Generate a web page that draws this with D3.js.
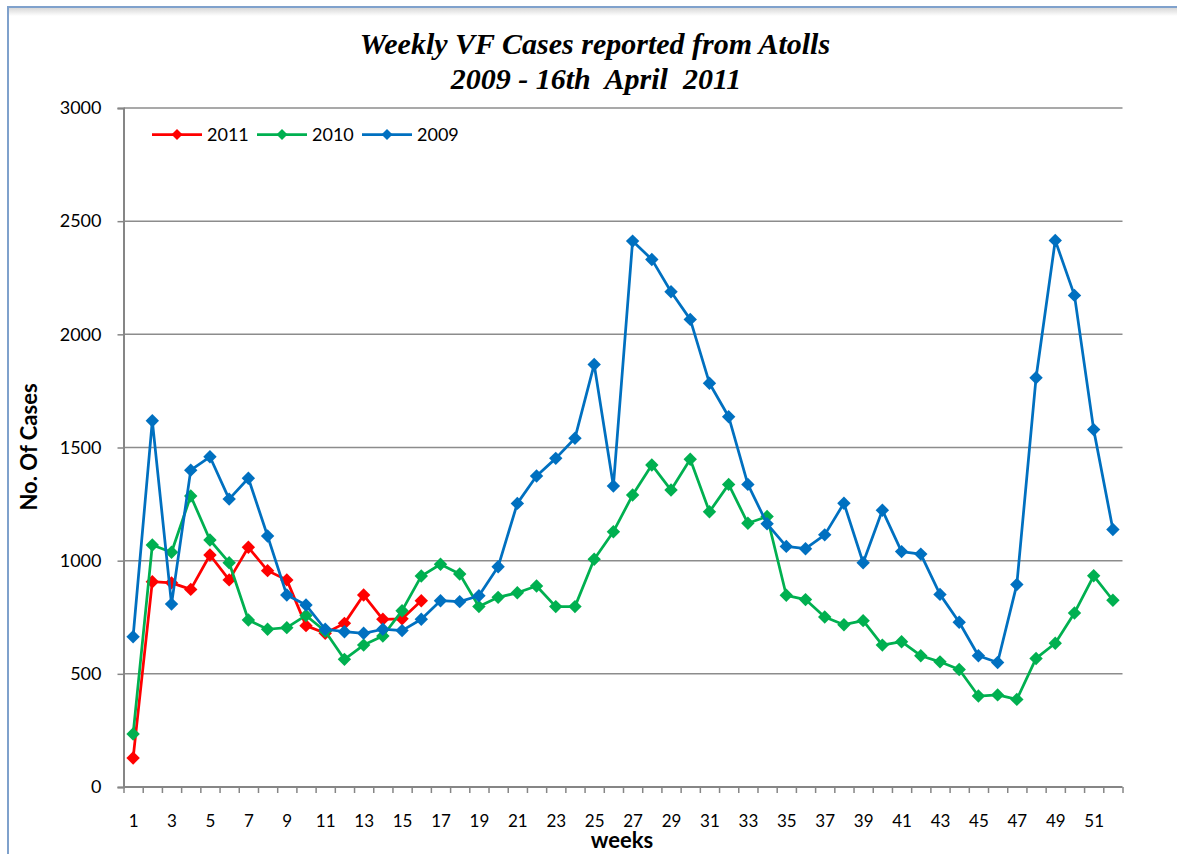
<!DOCTYPE html>
<html>
<head>
<meta charset="utf-8">
<script src="https://cdn.jsdelivr.net/npm/d3@7"></script>
<style>
  body { margin: 0; background: #fff; }
  svg { display: block; }
</style>
</head>
<body>
<div id="chart"></div>
<script>
const weeks = [1, 2, 3, 4, 5, 6, 7, 8, 9, 10, 11, 12, 13, 14, 15, 16, 17, 18, 19, 20,
  21, 22, 23, 24, 25, 26, 27, 28, 29, 30, 31, 32, 33, 34, 35, 36, 37, 38, 39, 40,
  41, 42, 43, 44, 45, 46, 47, 48, 49, 50, 51, 52];

const cases2011 = [128, 907, 902, 873, 1025, 915, 1059, 956, 915, 713, 679, 723, 848, 741, 743, 823];

const cases2010 = [234, 1069, 1037, 1286, 1091, 991, 738, 697, 704, 758,
  688, 564, 627, 667, 779, 932, 984, 941, 797, 838,
  858, 888, 797, 797, 1006, 1128, 1290, 1423, 1312, 1448,
  1216, 1337, 1165, 1195, 847, 828, 751, 717, 735, 627,
  642, 580, 553, 519, 402, 407, 387, 568, 635, 769,
  933, 825];

const cases2009 = [664, 1618, 808, 1400, 1459, 1272, 1364, 1109, 848, 804,
  697, 686, 679, 697, 691, 741, 823, 819, 845, 973,
  1253, 1374, 1452, 1541, 1867, 1330, 2412, 2331, 2188, 2066,
  1784, 1636, 1337, 1163, 1063, 1053, 1114, 1254, 991, 1223,
  1040, 1029, 851, 728, 580, 550, 895, 1808, 2415, 2172,
  1579, 1138];

const yTicks = [0, 500, 1000, 1500, 2000, 2500, 3000];
const seriesNames = ["2011", "2010", "2009"];
const seriesColors = ["#ff0000", "#00b050", "#0070c0"];

const W = 1177, H = 854;
const plotLeft = 123.5, plotRight = 1122.5, plotTop = 108, plotBottom = 787;

const svg = d3.select("#chart").append("svg")
  .attr("width", W).attr("height", H);

// frame
svg.append("rect").attr("x", 0).attr("y", 0).attr("width", W).attr("height", H).attr("fill", "#fff");
const shadow = svg.append("defs").append("linearGradient")
  .attr("id", "shd").attr("x1", 0).attr("y1", 0).attr("x2", 0).attr("y2", 1);
shadow.append("stop").attr("offset", 0).attr("stop-color", "#d8d8d8");
shadow.append("stop").attr("offset", 1).attr("stop-color", "#ffffff");
svg.append("rect").attr("x", 9).attr("y", 8).attr("width", W - 9).attr("height", 8).attr("fill", "url(#shd)");
svg.append("line").attr("x1", 8).attr("x2", W).attr("y1", 7).attr("y2", 7)
  .attr("stroke", "#7fa1cc").attr("stroke-width", 2);
svg.append("line").attr("x1", 8).attr("x2", 8).attr("y1", 6).attr("y2", H)
  .attr("stroke", "#7fa1cc").attr("stroke-width", 2);

const x = d3.scaleLinear().domain([0.5, 52.5]).range([plotLeft, plotRight]);
const y = d3.scaleLinear().domain([0, 3000]).range([plotBottom, plotTop]);

// gridlines
svg.append("g").selectAll("line").data(yTicks.filter(d => d > 0)).join("line")
  .attr("x1", plotLeft).attr("x2", plotRight)
  .attr("y1", d => y(d)).attr("y2", d => y(d))
  .attr("stroke", "#8c8c8c").attr("stroke-width", 1.5);

// y axis
const yAxis = svg.append("g").attr("transform", `translate(${plotLeft},0)`)
  .call(d3.axisLeft(y).tickValues(yTicks).tickSize(6).tickPadding(16).tickFormat(d3.format("d")));
yAxis.select(".domain").attr("stroke", "#868686").attr("stroke-width", 2);
yAxis.selectAll(".tick line").attr("stroke", "#868686").attr("stroke-width", 1.5);
yAxis.selectAll("text").attr("font-family", "Lato, sans-serif").attr("font-size", 18).attr("fill", "#000");

// x axis: ticks between categories
const xAxis = svg.append("g").attr("transform", `translate(0,${plotBottom})`)
  .call(d3.axisBottom(x).tickValues(weeks.map(w => w - 0.5).concat([52.5])).tickSize(6).tickFormat(""));
xAxis.select(".domain").attr("stroke", "#868686").attr("stroke-width", 2).attr("d", `M${plotLeft},0H${plotRight}`);
xAxis.selectAll(".tick line").attr("stroke", "#868686").attr("stroke-width", 1.5);

const xLabels = svg.append("g").attr("transform", `translate(0,${plotBottom})`)
  .call(d3.axisBottom(x).tickValues(weeks.filter(w => w % 2 === 1)).tickSize(0).tickPadding(28));
xLabels.select(".domain").remove();
xLabels.selectAll("text").attr("font-family", "Lato, sans-serif").attr("font-size", 17).attr("fill", "#000");

// series
const series = [cases2011, cases2010, cases2009];
const line = d3.line().x((d, i) => x(weeks[i])).y(d => y(d));
const diamond = d3.symbol(d3.symbolSquare, 90);

series.forEach((vals, k) => {
  const g = svg.append("g");
  g.append("path").datum(vals)
    .attr("fill", "none").attr("stroke", seriesColors[k]).attr("stroke-width", 2.75)
    .attr("stroke-linejoin", "round")
    .attr("d", line);
  g.selectAll("path.mk").data(vals).join("path")
    .attr("class", "mk")
    .attr("d", diamond)
    .attr("transform", (d, i) => `translate(${x(weeks[i])},${y(d)}) rotate(45)`)
    .attr("fill", seriesColors[k]);
});

// legend
const legend = svg.append("g");
seriesNames.forEach((name, k) => {
  const lx = 152 + k * 105, ly = 134.5;
  legend.append("line").attr("x1", lx).attr("x2", lx + 50).attr("y1", ly).attr("y2", ly)
    .attr("stroke", seriesColors[k]).attr("stroke-width", 2.75);
  legend.append("path").attr("d", d3.symbol(d3.symbolSquare, 60))
    .attr("transform", `translate(${lx + 25},${ly}) rotate(45)`).attr("fill", seriesColors[k]);
  legend.append("text").attr("x", lx + 55).attr("y", ly).attr("dy", "0.35em")
    .attr("font-family", "Lato, sans-serif").attr("font-size", 18).text(name);
});

// titles
const title = svg.append("g").attr("font-family", "'Liberation Serif', serif")
  .attr("font-weight", "bold").attr("font-style", "italic").attr("font-size", 30)
  .attr("text-anchor", "middle");
title.append("text").attr("x", 595).attr("y", 54).text("Weekly VF Cases reported from Atolls");
title.append("text").attr("x", 596).attr("y", 89).text("2009 - 16th  April  2011").attr("xml:space", "preserve");

svg.append("text")
  .attr("transform", "translate(37,447) rotate(-90)")
  .attr("text-anchor", "middle")
  .attr("font-family", "Lato, sans-serif").attr("font-weight", "bold").attr("font-size", 22)
  .text("No. Of Cases");

svg.append("text")
  .attr("x", 622).attr("y", 848)
  .attr("text-anchor", "middle")
  .attr("font-family", "Lato, sans-serif").attr("font-weight", "bold").attr("font-size", 22)
  .text("weeks");
</script>
</body>
</html>
